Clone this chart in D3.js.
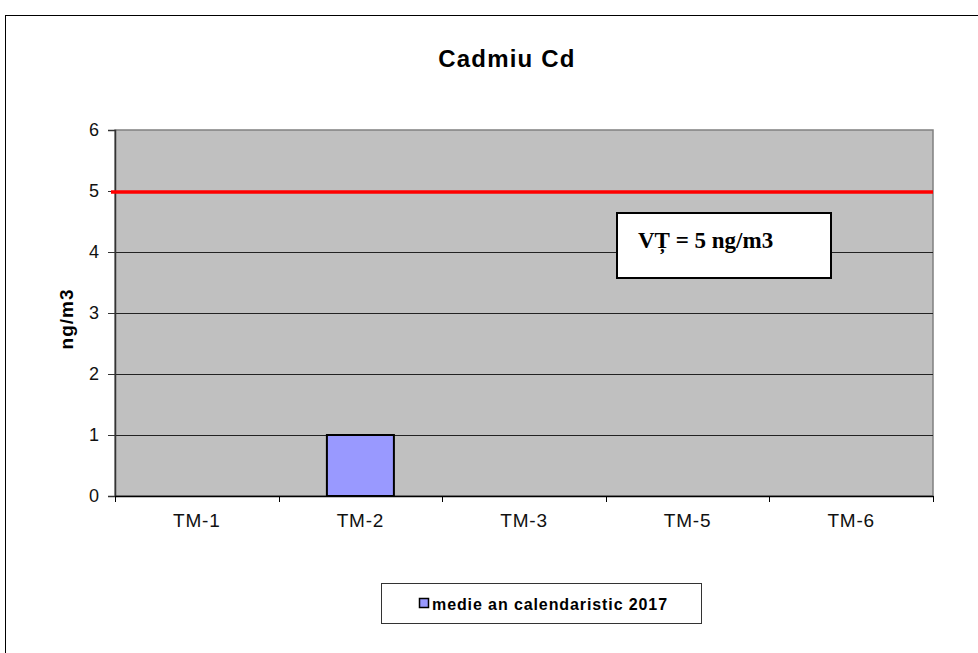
<!DOCTYPE html>
<html lang="ro">
<head>
  <meta charset="UTF-8">
  <title>Cadmiu Cd</title>
  <style>
    body { margin: 0; background: #fff; }
  </style>
</head>
<body>
  <script src="https://d3js.org/d3.v7.min.js"></script>
  <script>
    // data
    const stations = ['TM-1', 'TM-2', 'TM-3', 'TM-5', 'TM-6'];
    const annual2017 = [null, 1, null, null, null];
    const yTicks = [0, 1, 2, 3, 4, 5, 6];
    const limitValue = 5;
    const limitLabel = 'VȚ = 5 ng/m3';
    const seriesName = 'medie an calendaristic 2017';

    const width = 978, height = 653;
    const plot = { left: 115, right: 933, top: 130, bottom: 496 };
    const sans = 'Arial, "Liberation Sans", sans-serif';

    const svg = d3.select('body')
      .append('svg')
      .attr('width', width)
      .attr('height', height)
      .style('font-family', sans);

    // outer chart frame (right/bottom run off the page)
    svg.append('rect')
      .attr('x', 5.5).attr('y', 15.5)
      .attr('width', 1000).attr('height', 700)
      .attr('fill', '#fff')
      .attr('stroke', '#000')
      .attr('stroke-width', 1);

    const x = d3.scaleBand()
      .domain(stations)
      .range([plot.left, plot.right]);

    const y = d3.scaleLinear()
      .domain([0, 6])
      .range([plot.bottom, plot.top]);

    // plot area
    svg.append('rect')
      .attr('x', plot.left).attr('y', plot.top)
      .attr('width', plot.right - plot.left)
      .attr('height', plot.bottom - plot.top)
      .attr('fill', '#c0c0c0')
      .attr('stroke', '#808080')
      .attr('stroke-width', 1.5);

    // gridlines
    svg.append('g')
      .selectAll('line')
      .data(yTicks.filter(d => d > 0 && d < 6))
      .join('line')
      .attr('x1', plot.left).attr('x2', plot.right)
      .attr('y1', d => Math.round(y(d)) + 0.5)
      .attr('y2', d => Math.round(y(d)) + 0.5)
      .attr('stroke', '#222')
      .attr('stroke-width', 1);

    // bars
    const barW = 67;
    svg.append('g')
      .selectAll('rect')
      .data(stations.map((s, i) => ({ s, v: annual2017[i] })).filter(d => d.v != null))
      .join('rect')
      .attr('x', d => x(d.s) + x.bandwidth() / 2 - barW / 2)
      .attr('y', d => y(d.v))
      .attr('width', barW)
      .attr('height', d => y(0) - y(d.v))
      .attr('fill', '#9999ff')
      .attr('stroke', '#000')
      .attr('stroke-width', 2);

    // y axis
    const yAxis = svg.append('g')
      .attr('transform', `translate(${plot.left},0)`)
      .call(d3.axisLeft(y).tickValues(yTicks).tickSize(7).tickPadding(9).tickFormat(d3.format('d')));
    yAxis.select('.domain').attr('stroke', '#333').attr('stroke-width', 1.5);
    yAxis.selectAll('.tick line').attr('stroke', '#333');
    yAxis.selectAll('.tick text')
      .attr('font-size', 18)
      .attr('font-family', sans)
      .attr('fill', '#111');

    // x axis
    const xAxis = svg.append('g')
      .attr('transform', `translate(0,${plot.bottom})`)
      .call(d3.axisBottom(x).tickSize(0).tickPadding(18));
    xAxis.select('.domain').attr('stroke', '#000').attr('stroke-width', 1.5);
    xAxis.selectAll('.tick text')
      .attr('font-size', 19)
      .attr('font-family', sans)
      .attr('letter-spacing', 0.8)
      .attr('fill', '#111');

    // category boundary ticks
    const bounds = stations.map(s => x(s)).concat([plot.right]);
    svg.append('g')
      .selectAll('line')
      .data(bounds)
      .join('line')
      .attr('x1', d => Math.round(d) + 0.5).attr('x2', d => Math.round(d) + 0.5)
      .attr('y1', plot.bottom).attr('y2', plot.bottom + 6)
      .attr('stroke', '#000');

    // limit line
    svg.append('line')
      .attr('x1', plot.left - 4).attr('x2', plot.right)
      .attr('y1', y(limitValue) + 1).attr('y2', y(limitValue) + 1)
      .attr('stroke', '#ff0000')
      .attr('stroke-width', 3.5);

    // limit label box
    svg.append('rect')
      .attr('x', 617).attr('y', 213)
      .attr('width', 214).attr('height', 65)
      .attr('fill', '#fff')
      .attr('stroke', '#000')
      .attr('stroke-width', 2);
    svg.append('text')
      .attr('x', 638).attr('y', 248)
      .style('font-family', '"Liberation Serif", "Times New Roman", serif')
      .attr('font-weight', 'bold')
      .attr('font-size', 23)
      .text(limitLabel);

    // title
    svg.append('text')
      .attr('x', 507).attr('y', 67)
      .attr('text-anchor', 'middle')
      .attr('font-weight', 'bold')
      .attr('font-size', 24)
      .attr('letter-spacing', 1.2)
      .text('Cadmiu Cd');

    // y axis title
    svg.append('text')
      .attr('transform', `translate(73,${(plot.top + plot.bottom) / 2 + 6}) rotate(-90)`)
      .attr('text-anchor', 'middle')
      .attr('font-weight', 'bold')
      .attr('font-size', 19)
      .attr('letter-spacing', 1)
      .text('ng/m3');

    // legend
    svg.append('rect')
      .attr('x', 381.5).attr('y', 583.5)
      .attr('width', 320).attr('height', 40)
      .attr('fill', '#fff')
      .attr('stroke', '#333')
      .attr('stroke-width', 1);
    svg.append('rect')
      .attr('x', 419.5).attr('y', 598.5)
      .attr('width', 9).attr('height', 9)
      .attr('fill', '#9999ff')
      .attr('stroke', '#000')
      .attr('stroke-width', 1.5);
    svg.append('text')
      .attr('x', 432).attr('y', 610)
      .attr('font-weight', 'bold')
      .attr('font-size', 16)
      .attr('letter-spacing', 0.9)
      .text(seriesName);
  </script>
</body>
</html>
